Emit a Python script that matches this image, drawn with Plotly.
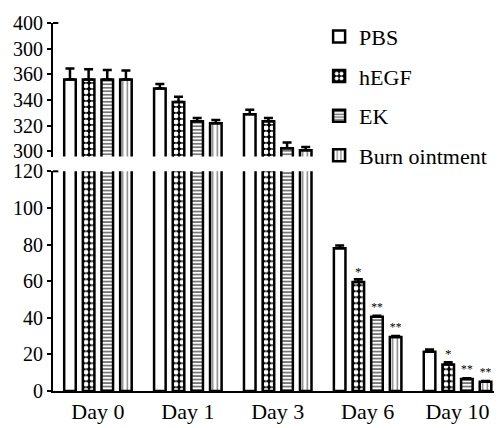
import plotly.graph_objects as go

categories = ["Day 0", "Day 1", "Day 3", "Day 6", "Day 10"]
series_names = ["PBS", "hEGF", "EK", "Burn ointment"]
pbs = [356, 349, 329, 78, 21.5]
hegf = [356, 338.5, 323.5, 59.5, 14.5]
ek = [356, 323.5, 302.5, 40.5, 6.5]
burn = [356, 322, 301, 29.5, 5]
pbs_err = [8.5, 3.5, 3.5, 1.5, 1.2]
hegf_err = [8, 4, 2.5, 1.5, 1.2]
ek_err = [7.5, 2.5, 4.5, 0.6, 0.5]
burn_err = [7, 2.5, 2.5, 0.6, 0.5]
pbs_sig = ["", "", "", "", ""]
hegf_sig = ["", "", "", "*", "*"]
ek_sig = ["", "", "", "**", "**"]
burn_sig = ["", "", "", "**", "**"]

lower_ticks = [0, 20, 40, 60, 80, 100, 120]
upper_ticks = [300, 320, 340, 360, 380, 400]
upper_ticktext = ["300", "320", "340", "360", "300", "400"]

values = [pbs, hegf, ek, burn]
errors = [pbs_err, hegf_err, ek_err, burn_err]
sigs = [pbs_sig, hegf_sig, ek_sig, burn_sig]

patterns = [
    dict(shape="", fillmode="replace"),
    dict(shape=".", bgcolor="black", fgcolor="white", size=6, solidity=0.5, fillmode="replace"),
    dict(shape="-", bgcolor="white", fgcolor="#555555", size=3.5, solidity=0.4, fillmode="replace"),
    dict(shape="|", bgcolor="white", fgcolor="#777777", size=4.5, solidity=0.3, fillmode="replace"),
]

FONT = "Liberation Serif"
fig = go.Figure()

for i, name in enumerate(series_names):
    for yax, show in (("y", False), ("y2", True)):
        fig.add_trace(go.Bar(
            x=categories, y=values[i], name=name,
            xaxis="x", yaxis=yax,
            showlegend=show, legendgroup=name,
            marker=dict(color="white", line=dict(color="black", width=2.5), pattern=patterns[i]),
            error_y=dict(type="data", symmetric=False, array=errors[i],
                         arrayminus=[0] * 5, color="black", thickness=2.5, width=4.5),
            text=sigs[i] if yax == "y" else None,
            textposition="outside" if yax == "y" else "none",
            textfont=dict(family=FONT, size=13, color="black"),
            outsidetextfont=dict(family=FONT, size=13, color="black"),
        ))

axis_common = dict(showgrid=False, zeroline=False, showline=True, linecolor="black",
                   linewidth=2, ticks="outside", ticklen=4, tickwidth=1.5, tickcolor="black",
                   tickfont=dict(family=FONT, size=20, color="black"))

# page body has an 8px default margin, so the figure is laid out 8px smaller
fig.update_layout(
    width=494, height=420,
    margin=dict(l=45, r=4, t=12, b=33),
    paper_bgcolor="white", plot_bgcolor="white",
    font=dict(family=FONT, color="black"),
    barmode="group", bargap=0.17, bargroupgap=0.38,
    xaxis=dict(showgrid=False, zeroline=False, showline=True, linecolor="black", linewidth=2,
               ticks="", range=[-0.5, 4.45], tickfont=dict(family=FONT, size=22, color="black")),
    yaxis=dict(domain=[0, 0.597], range=[0, 120], tickvals=lower_ticks, **axis_common),
    yaxis2=dict(domain=[0.637, 1], range=[296, 400], tickvals=upper_ticks,
                ticktext=upper_ticktext, anchor="x", **axis_common),
    legend=dict(x=0.598, xanchor="left", y=1.02, yanchor="top", yref="paper",
                font=dict(family=FONT, size=22, color="black"),
                bgcolor="rgba(0,0,0,0)", traceorder="grouped", tracegroupgap=8),
)

for yref in ("y domain", "y2 domain"):
    fig.add_shape(type="line", xref="x domain", yref=yref, x0=0, x1=0.012, y0=1, y1=1,
                  line=dict(color="black", width=2))

fig.write_html("out.html")
